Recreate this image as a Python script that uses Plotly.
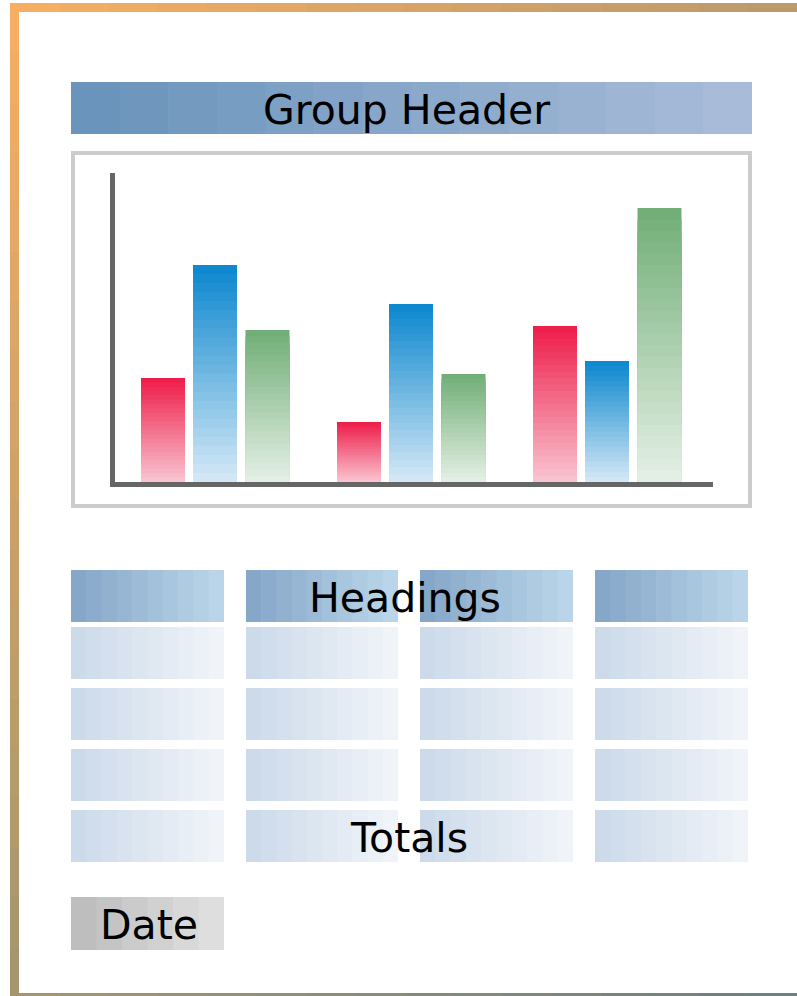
import plotly.graph_objects as go

W, H = 797, 996

# ---- data ----
groups = [0, 1, 2]
series_names = ["Red", "Blue", "Green"]
red_values = [104, 60, 156]
blue_values = [217, 178, 121]
green_values = [152, 108, 274]

title_text = "Group Header"
headings_text = "Headings"
totals_text = "Totals"
date_text = "Date"

# ---- helpers ----
def hx(c):
    c = c.lstrip("#")
    return tuple(int(c[i:i + 2], 16) for i in (0, 2, 4))

def mix(c1, c2, t):
    a, b = hx(c1), hx(c2)
    return "rgb(%d,%d,%d)" % tuple(round(a[i] + (b[i] - a[i]) * t) for i in range(3))

def px(x):
    return x / W

def py(y):
    return 1 - y / H

shapes = []

def rect(x0, y0, x1, y1, color):
    shapes.append(dict(type="rect", xref="paper", yref="paper",
                       x0=px(x0), x1=px(x1), y0=py(y1), y1=py(y0),
                       fillcolor=color, line=dict(width=0), layer="below"))

def hgrad(x0, y0, x1, y1, c1, c2, n=12):
    w = (x1 - x0) / n
    for i in range(n):
        rect(x0 + i * w, y0, x0 + (i + 1) * w + (0.6 if i < n - 1 else 0), y1,
             mix(c1, c2, i / (n - 1)))

def vgrad(x0, y0, x1, y1, c1, c2, n=12):
    h = (y1 - y0) / n
    for i in range(n):
        rect(x0, y0 + i * h, x1, y0 + (i + 1) * h + (0.6 if i < n - 1 else 0),
             mix(c1, c2, i / (n - 1)))

# outer frame (top, left, bottom)
hgrad(10, 3, 797, 12, "#F5AE62", "#BC9A6C", 16)
vgrad(10, 3, 19, 996, "#F5AE62", "#A5966E", 20)
hgrad(10, 993, 797, 996, "#A5966E", "#6A8282", 16)

# group header bar
hgrad(71, 82, 752, 134, "#6A94BC", "#A8BBD8", 14)

# chart box border
shapes.append(dict(type="rect", xref="paper", yref="paper",
                   x0=px(73), x1=px(750), y0=py(506), y1=py(153),
                   line=dict(color="#CCCCCC", width=4), fillcolor="rgba(0,0,0,0)",
                   layer="below"))

# table
cols = [(71, 224), (246, 398), (420, 573), (595, 748)]
for (a, b) in cols:
    hgrad(a, 570, b, 622, "#85A7C8", "#BAD5E9", 10)
    for top in (627, 688, 749, 810):
        hgrad(a, top, b, top + 52, "#CCDAEA", "#F0F4F9", 10)

# date box
hgrad(71, 897, 224, 950, "#BEBEBE", "#DEDEDE", 6)

# ---- bars (gradient emulated by overlaid bars) ----
bar_w = 44 / 196
offsets = [-52 / 196 - bar_w / 2, -bar_w / 2, 52.5 / 196 - bar_w / 2]
grad_cols = [("#EE1F4A", "#F9C2CF"), ("#0E88CE", "#D2E7F6"), ("#72AF78", "#E3EFE4")]
all_values = [red_values, blue_values, green_values]

fig = go.Figure()
N = 24
for s, vals in enumerate(all_values):
    top_c, bot_c = grad_cols[s]
    for k in range(N):
        frac = (N - k) / N
        fig.add_trace(go.Bar(
            x=groups, y=[v * frac for v in vals],
            width=bar_w, offset=offsets[s],
            marker=dict(color=mix(top_c, bot_c, k / (N - 1)), line=dict(width=0)),
            name=series_names[s], showlegend=False, hoverinfo="skip"))

x0p, x1p = 115, 713
y_top, y_bot = 173, 482
xr0 = -(215 - x0p) / 196
xr1 = xr0 + (x1p - x0p) / 196

annotations = []
def label(text, cx, cy):
    annotations.append(dict(text=text, x=px(cx), y=py(cy), xref="paper", yref="paper",
                            xanchor="center", yanchor="middle", showarrow=False,
                            font=dict(family="DejaVu Sans", size=41, color="black")))

label(title_text, 407, 110)
label(headings_text, 405, 598)
label(totals_text, 409, 838)
label(date_text, 149, 925)

fig.update_layout(
    width=W, height=H, margin=dict(l=0, r=0, t=0, b=0),
    paper_bgcolor="white", plot_bgcolor="rgba(0,0,0,0)",
    barmode="overlay", showlegend=False,
    shapes=shapes, annotations=annotations,
    xaxis=dict(domain=[px(x0p), px(x1p)], range=[xr0, xr1], showline=True,
               linecolor="#666666", linewidth=5, showgrid=False, zeroline=False,
               showticklabels=False, ticks="", fixedrange=True),
    yaxis=dict(domain=[py(y_bot), py(y_top)], range=[0, y_bot - y_top], showline=True,
               linecolor="#666666", linewidth=5, showgrid=False, zeroline=False,
               showticklabels=False, ticks="", fixedrange=True),
)

fig.write_html("out.html", config={"displayModeBar": False},
               post_script="document.body.style.margin='0';document.body.style.overflow='hidden';")
